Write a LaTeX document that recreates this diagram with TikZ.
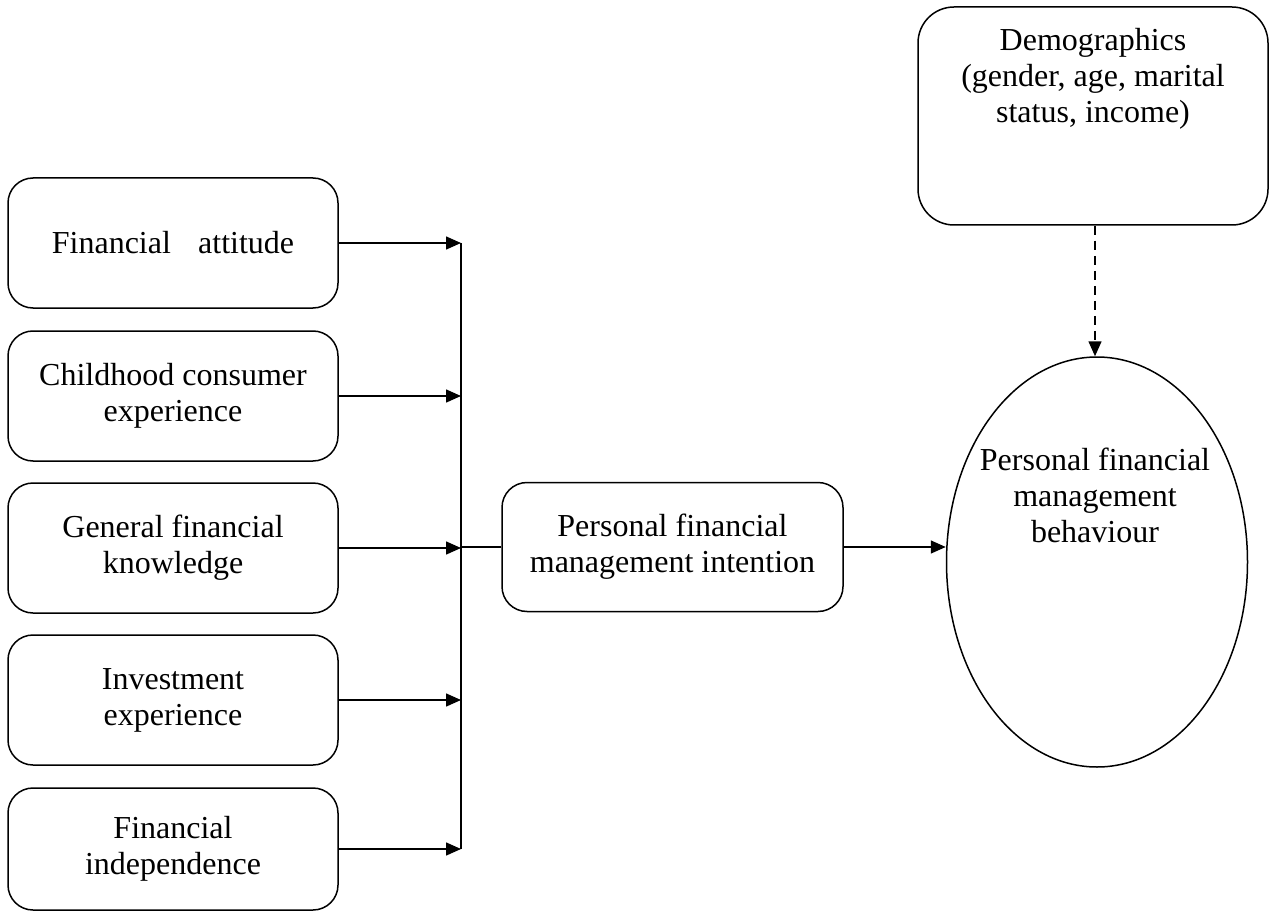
\documentclass[tikz,border=0pt]{standalone}
\usepackage{fontspec}
\setmainfont{Liberation Serif}
\usetikzlibrary{shapes.geometric, arrows.meta, positioning}
\tikzset{
  box/.style={draw, line width=1.5pt, rounded corners=25pt, minimum width=330pt, minimum height=130pt, align=center, font=\fontsize{32}{36}\selectfont},
  txt/.style={align=center, font=\fontsize{32}{36}\selectfont, inner sep=0pt},
  arrow/.style={line width=1.5pt, -{Triangle[length=15pt,width=13pt]}}
}
\begin{document}
\begin{tikzpicture}[x=1pt, y=-1pt]
\useasboundingbox (0,0) rectangle (1269,912);
%left boxes
\node[box] (attitude) at (173,243) {Financial\hspace{0.6em} attitude};
\node[box] (childhood) at (173,396) {Childhood consumer\\experience};
\node[box] (knowledge) at (173,548) {General financial\\knowledge};
\node[box] (investment) at (173,700) {Investment\\experience};
\node[box, minimum height=122pt] (independence) at (173,849) {Financial\\independence};
%middle and right
\node[box, minimum width=341pt, minimum height=129pt] (intention) at (672.5,547) {Personal financial\\management intention};
\node[draw, ellipse, line width=1.5pt, minimum width=301pt, minimum height=410pt] (behaviour) at (1097,562) {};
\node[txt, anchor=north] (behaviourtext) at (1095,448) {Personal financial\\management\\behaviour};
\node[draw, line width=1.5pt, rounded corners=36pt, minimum width=350pt, minimum height=218pt] (demo) at (1093,116) {};
\node[txt, anchor=north] (demotext) at (1093,28) {Demographics\\(gender, age, marital\\status, income)};
%bus line
\coordinate (bus) at (461,0);
\draw[line width=1.5pt] (attitude.east -| bus) -- (independence.east -| bus);
\foreach \n in {attitude, childhood, knowledge, investment, independence}
  \draw[arrow] (\n.east) -- (\n.east -| bus);
\draw[line width=1.5pt] (intention.west) -- (intention.west -| bus);
\draw[arrow] (intention.east) -- (behaviour.west |- intention.east);
%dashed
\coordinate (dash) at (1095,0);
\draw[arrow, dashed, dash pattern=on 9pt off 6pt] (demo.south -| dash) -- (dash |- behaviour.north);
\end{tikzpicture}
\end{document}
